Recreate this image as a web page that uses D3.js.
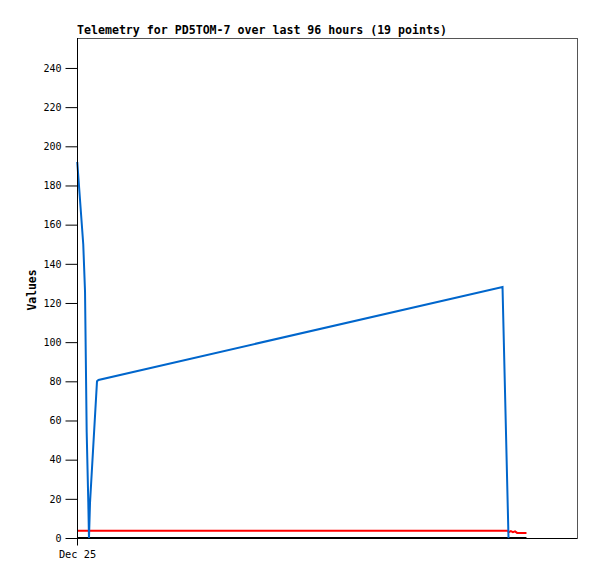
<!DOCTYPE html>
<html>
<head>
<meta charset="utf-8">
<script src="https://cdn.jsdelivr.net/npm/d3@7"></script>
<style>
  body { margin: 0; background: #fff; }
  text { font-family: "DejaVu Sans Mono", monospace; }
</style>
</head>
<body>
<div id="viz_container" style="width:597px;height:579px"></div>
<script>
// Hours since Dec 25 00:00 and readings
const blueHours = [0.05, 1.2, 1.54, 1.86, 2.17, 2.3, 2.5, 3.84, 4.13, 81.7, 82.85];
const blueValues = [192, 150, 126, 54, 18, 0, 18, 80, 80.7, 128.2, 0];
const redHours = [0, 82.75, 82.9, 83.3, 83.7, 84.1, 84.5, 86.3];
const redValues = [3.7, 3.7, 3.0, 3.5, 3.0, 3.4, 2.6, 2.6];
const blackHours = [0, 86.3];
const blackValues = [0, 0];
const yTicks = [0, 20, 40, 60, 80, 100, 120, 140, 160, 180, 200, 220, 240];
const title = "Telemetry for PD5TOM-7 over last 96 hours (19 points)";

const width = 597, height = 579;
const margin = { left: 77, top: 38, right: 20, bottom: 41 };
const start = new Date(2024, 11, 25, 0, 0);
const toDate = (h) => new Date(start.getTime() + h * 3600e3);

const svg = d3.select("#viz_container").append("svg")
  .attr("width", width).attr("height", height);

const x = d3.scaleTime()
  .domain([start, toDate(96)])
  .range([margin.left, width - margin.right]);
const y = d3.scaleLinear()
  .domain([0, 255.3])
  .range([height - margin.bottom, margin.top]);

// frame
svg.append("rect")
  .attr("x", margin.left + 0.5).attr("y", margin.top + 0.5)
  .attr("width", width - margin.right - margin.left)
  .attr("height", height - margin.bottom - margin.top)
  .attr("fill", "none").attr("stroke", "#555");

const line = d3.line().x((d) => x(toDate(d[0]))).y((d) => y(d[1]));
const series = [
  { h: blackHours, v: blackValues, c: "#000000" },
  { h: redHours, v: redValues, c: "#ff0000" },
  { h: blueHours, v: blueValues, c: "#0066cc" }
];
series.forEach((s) => {
  svg.append("path")
    .datum(s.h.map((h, i) => [h, s.v[i]]))
    .attr("fill", "none")
    .attr("stroke", s.c)
    .attr("stroke-width", 2)
    .attr("d", line);
});

// y axis
const yAxis = svg.append("g")
  .attr("transform", `translate(${margin.left + 0.5},0)`)
  .call(d3.axisLeft(y).tickValues(yTicks).tickSize(12).tickPadding(4));
yAxis.select(".domain").attr("stroke", "#000").attr("d", `M0,${margin.top}V${height - margin.bottom}`);
yAxis.selectAll("text").style("font-size", "10px").style("font-family", "DejaVu Sans Mono").attr("fill", "#000");

// x axis
const xAxis = svg.append("g")
  .attr("transform", `translate(0,${height - margin.bottom + 0.5})`)
  .call(d3.axisBottom(x).tickValues([start]).tickFormat(d3.timeFormat("%b %d")).tickSize(7).tickPadding(5));
xAxis.select(".domain").attr("stroke", "#000").attr("d", `M${margin.left},0H${width - margin.right}`);
xAxis.selectAll("text").style("font-size", "10.3px").style("font-family", "DejaVu Sans Mono").attr("fill", "#000");

svg.append("text")
  .attr("x", margin.left).attr("y", 34)
  .style("font-size", "11.6px").style("font-weight", "bold")
  .text(title);

svg.append("text")
  .attr("transform", "translate(36,290) rotate(-90)")
  .attr("text-anchor", "middle")
  .style("font-size", "11.4px").style("font-weight", "bold")
  .text("Values");
</script>
</body>
</html>
